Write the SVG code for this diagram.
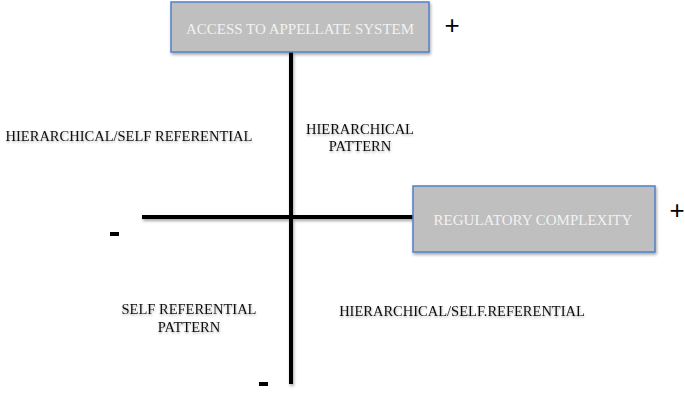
<svg xmlns="http://www.w3.org/2000/svg" width="685" height="400" viewBox="0 0 685 400">
<defs>
<filter id="sh" x="-10%" y="-20%" width="120%" height="150%">
<feDropShadow dx="1" dy="2" stdDeviation="1.5" flood-color="#000" flood-opacity="0.35"/>
</filter>
<filter id="tsh" x="-5%" y="-30%" width="110%" height="160%">
<feDropShadow dx="0.5" dy="1.5" stdDeviation="1" flood-color="#000" flood-opacity="0.3"/>
</filter>
</defs>
<style>
.box{fill:#bfbfbf;stroke:#4f81c7;stroke-width:1.5}
.bt{font-family:"Liberation Serif",serif;font-size:15px;fill:#f2f2f2;text-anchor:middle}
.lb{font-family:"Liberation Serif",serif;font-size:14.5px;fill:#111;text-anchor:middle}
.axis{stroke:#000;stroke-width:4;fill:none}
.sg{font-family:"Liberation Sans",sans-serif;font-size:26px;fill:#000;text-anchor:middle}
</style>
<g id="connectors" filter="url(#sh)">
<line class="axis" x1="291" y1="52" x2="291" y2="384"/>
<line class="axis" x1="142" y1="217" x2="413" y2="217"/>
</g>
<g id="node-access">
<rect class="box" x="171" y="2" width="258" height="50" filter="url(#sh)"/>
<text class="bt" x="300" y="34">ACCESS TO APPELLATE SYSTEM</text>
</g>
<g id="node-regulatory">
<rect class="box" x="413" y="186" width="242" height="66" filter="url(#sh)"/>
<text class="bt" x="533" y="225">REGULATORY COMPLEXITY</text>
</g>
<g id="signs">
<text class="sg" x="452" y="34">+</text>
<text class="sg" x="677" y="219">+</text>
<rect x="110" y="232" width="9" height="4" fill="#000"/>
<rect x="259" y="382" width="9" height="4" fill="#000"/>
</g>
<g id="labels" filter="url(#tsh)">
<text class="lb" x="129" y="141">HIERARCHICAL/SELF REFERENTIAL</text>
<text class="lb" x="360" y="134">HIERARCHICAL</text>
<text class="lb" x="360" y="151">PATTERN</text>
<text class="lb" x="189" y="314">SELF REFERENTIAL</text>
<text class="lb" x="189" y="332">PATTERN</text>
<text class="lb" x="462" y="316">HIERARCHICAL/SELF.REFERENTIAL</text>
</g>
</svg>
